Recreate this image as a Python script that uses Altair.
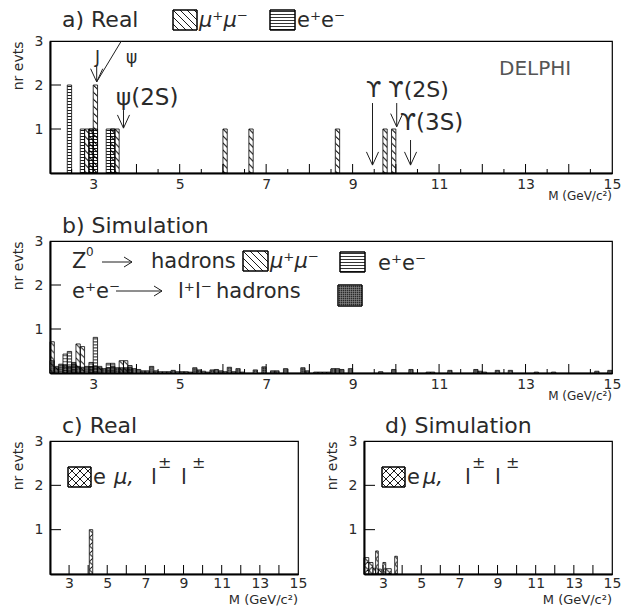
import base64
import altair as alt
import pandas as pd

FONT = "DejaVu Sans"
INK = "#1e1e1e"
TXT = "#2a2a2a"

# ---------------- data ----------------
# a) real data, 0.1 GeV bins (lower edge) and counts
a_mm_bin = [2.8, 2.9, 3.0, 3.4, 3.5, 6.0, 6.6, 8.6, 9.7, 9.9]
a_mm_cnt = [1, 1, 2, 1, 1, 1, 1, 1, 1, 1]
a_ee_bin = [2.4, 2.7, 2.9, 3.0, 3.3, 3.4]
a_ee_cnt = [2, 1, 1, 1, 1, 1]

# b) simulation, 0.1 GeV bins
b_mm_bin = [2.0, 2.1, 2.6, 2.7, 3.1, 3.6, 3.7]
b_mm_val = [0.71, 0.15, 0.66, 0.60, 0.15, 0.28, 0.28]
b_ee_bin = [2.3, 2.4, 2.5, 2.9, 3.0, 3.3, 3.4, 3.8]
b_ee_val = [0.43, 0.49, 0.24, 0.24, 0.81, 0.22, 0.22, 0.17]
b_ll_bin = [2.0, 2.1, 2.2, 2.3, 2.4, 2.5, 2.6, 2.7, 2.8, 2.9, 3.0, 3.1, 3.2, 3.3, 3.4,
            3.5, 3.6, 3.7, 3.8, 3.9,
            4.0, 4.1, 4.2, 4.3, 4.4, 4.5, 4.6, 4.7, 4.8, 4.9, 5.0, 5.1, 5.2, 5.3, 5.4,
            5.5, 5.6, 5.7, 5.8, 5.9, 6.0, 6.1, 6.2, 6.3, 6.4,
            6.7, 6.9, 7.1, 7.2, 7.4, 7.8, 7.9,
            8.1, 8.2, 8.3, 8.4, 8.5, 8.6, 8.7, 8.9,
            9.6, 9.9,
            10.3, 10.7, 10.8,
            11.2, 11.8, 11.9, 12.0, 12.3, 12.6,
            13.2, 13.6,
            14.6, 14.9]
b_ll_val = [0.28, 0.12, 0.20, 0.18, 0.15, 0.20, 0.15, 0.13, 0.15, 0.15, 0.15, 0.12, 0.10, 0.12, 0.15,
            0.12, 0.12, 0.12, 0.12, 0.10,
            0.08, 0.05, 0.05, 0.15, 0.05, 0.03, 0.03, 0.03, 0.06, 0.03, 0.03, 0.03, 0.02, 0.12, 0.07,
            0.04, 0.02, 0.07, 0.08, 0.05, 0.03, 0.13, 0.03, 0.10, 0.02,
            0.07, 0.14, 0.05, 0.05, 0.10, 0.12, 0.05,
            0.02, 0.02, 0.02, 0.02, 0.10, 0.10, 0.08, 0.10,
            0.03, 0.08,
            0.08, 0.02, 0.02,
            0.06, 0.08, 0.04, 0.02, 0.06, 0.06,
            0.02, 0.02,
            0.04, 0.06]
BIN = 0.1

# c) real e-mu / like-sign
c_lo = [4.06]
c_hi = [4.24]
c_cnt = [1]

# d) simulation e-mu / like-sign
d_lo = [2.0, 2.25, 2.47, 2.61, 2.75, 2.99, 3.14, 3.61]
d_hi = [2.25, 2.47, 2.61, 2.75, 2.91, 3.14, 3.43, 3.75]
d_val = [0.37, 0.26, 0.13, 0.52, 0.11, 0.26, 0.12, 0.40]

# resonance arrows in panel a (mass, arrow top, arrow tip in "nr evts")
arr_x = [3.08, 3.70, 9.46, 10.02, 10.34]
arr_top = [2.45, 1.43, 1.59, 1.59, 0.75]
arr_tip = [2.07, 1.02, 0.18, 1.05, 0.18]

x_labels = [3, 5, 7, 9, 11, 13, 15]
y_labels = [1, 2, 3]

# ---------------- helpers ----------------
def svg_uri(pattern):
    s = ('<svg xmlns="http://www.w3.org/2000/svg" width="100%" height="100%" '
         'preserveAspectRatio="none"><defs>' + pattern +
         '</defs><rect x="0" y="0" width="100%" height="100%" fill="url(#p)"/></svg>')
    return "data:image/svg+xml;base64," + base64.b64encode(s.encode()).decode()

PAT_MM = svg_uri('<pattern id="p" width="7" height="7" patternUnits="userSpaceOnUse">'
                 '<path d="M0,0 L7,7 M-1,6 L1,8 M6,-1 L8,1" stroke="#000" stroke-width="0.9" fill="none"/></pattern>')
PAT_EE = svg_uri('<pattern id="p" width="4" height="3" patternUnits="userSpaceOnUse">'
                 '<path d="M0,1.5 H4" stroke="#000" stroke-width="0.8" fill="none"/></pattern>')
PAT_LL = svg_uri('<pattern id="p" width="2" height="2" patternUnits="userSpaceOnUse">'
                 '<rect width="2" height="2" fill="#2a2a2a"/>'
                 '<path d="M0.5,0 V2 M0,0.5 H2" stroke="#9a9a9a" stroke-width="0.5" fill="none"/></pattern>')
PAT_X = svg_uri('<pattern id="p" width="8" height="8" patternUnits="userSpaceOnUse">'
                '<path d="M0,0 L8,8 M8,0 L0,8 M-1,7 L1,9 M7,-1 L9,1 M-1,1 L1,-1 M7,9 L9,7" '
                'stroke="#000" stroke-width="0.9" fill="none"/></pattern>')

XS = alt.Scale(domain=[2, 15], nice=False, zero=False)
YS = alt.Scale(domain=[0, 3], nice=False, zero=False)
ONE = pd.DataFrame({"k": [0]})


def hist_df(lo, hi, val):
    return pd.DataFrame({"x": lo, "x2": hi, "y": val, "y2": [0] * len(lo)})


def hist_layers(df, uri):
    enc = dict(x=alt.X("x:Q", scale=XS), x2="x2:Q",
               y=alt.Y("y:Q", scale=YS), y2="y2:Q")
    img = alt.Chart(df).mark_image(aspect=False).encode(url=alt.value(uri), **enc)
    out = alt.Chart(df).mark_rect(fillOpacity=0, stroke="black", strokeWidth=0.8).encode(**enc)
    return [img, out]


def axes_layers(W, H, half_ticks=True, label_size=14, label_pad=4):
    maj = pd.DataFrame({"xt": list(range(3, 15))})
    layers = [
        alt.Chart(maj).mark_rule(color="black", strokeWidth=1).encode(
            x=alt.X("xt:Q", scale=XS, axis=alt.Axis(
                values=x_labels, title="", ticks=False, grid=False, labelFlush=False,
                labelOverlap=False, labelFontSize=label_size, labelPadding=label_pad,
                domainWidth=2, domainColor="black", labelColor=TXT, labelFont=FONT)),
            y=alt.value(H), y2=alt.value(H - 9)),
        alt.Chart(pd.DataFrame({"yt": [1, 2]})).mark_rule(color="black", strokeWidth=1).encode(
            y=alt.Y("yt:Q", scale=YS, axis=alt.Axis(
                values=y_labels, title="nr evts", ticks=False, grid=False,
                labelFontSize=14, labelPadding=7, domainWidth=2, domainColor="black",
                labelColor=TXT, labelFont=FONT, titleFont=FONT, titleFontSize=14,
                titleFontWeight="normal", titleColor=TXT, titleAnchor="end", titlePadding=9)),
            x=alt.value(0), x2=alt.value(11)),
    ]
    if half_ticks:
        mino = pd.DataFrame({"xm": [v + 0.5 for v in range(2, 15)]})
        layers.append(alt.Chart(mino).mark_rule(color="black", strokeWidth=1).encode(
            x=alt.X("xm:Q", scale=XS), y=alt.value(H), y2=alt.value(H - 4)))
    return layers


def txt(text, x, y, size=21, italic=False, align="left", color=TXT):
    kw = dict(text=text, font=FONT, fontSize=size, align=align, baseline="alphabetic", color=color)
    if italic:
        kw["fontStyle"] = "italic"
    return alt.Chart(ONE).mark_text(**kw).encode(x=alt.value(x), y=alt.value(y))


def swatch(x1, x2, y1, y2, uri):
    enc = dict(x=alt.value(x1), x2=alt.value(x2), y=alt.value(y1), y2=alt.value(y2))
    return [alt.Chart(ONE).mark_rect(fill="white", stroke="black", strokeWidth=1).encode(**enc),
            alt.Chart(ONE).mark_image(aspect=False).encode(url=alt.value(uri), **enc),
            alt.Chart(ONE).mark_rect(fillOpacity=0, stroke="black", strokeWidth=1).encode(**enc)]


def rule_px(x1, y1, x2, y2, w=1):
    return alt.Chart(ONE).mark_rule(color=INK, strokeWidth=w).encode(
        x=alt.value(x1), y=alt.value(y1), x2=alt.value(x2), y2=alt.value(y2))


def h_arrow(x1, x2, y):
    return [rule_px(x1, y, x2, y), rule_px(x2 - 8, y - 5, x2, y), rule_px(x2 - 8, y + 5, x2, y)]


# ---------------- panel a ----------------
WA, HA = 562, 132
a_layers = axes_layers(WA, HA)
a_layers += hist_layers(hist_df(a_ee_bin, [b + BIN for b in a_ee_bin], a_ee_cnt), PAT_EE)
a_layers += hist_layers(hist_df(a_mm_bin, [b + BIN for b in a_mm_bin], a_mm_cnt), PAT_MM)

arr = pd.DataFrame({"x": arr_x, "top": arr_top, "tip": arr_tip})
arr["xl"] = arr["x"] - 0.14
arr["xr"] = arr["x"] + 0.14
arr["yh"] = arr["tip"] + 0.3
a_layers.append(alt.Chart(arr).mark_rule(color=INK, strokeWidth=1).encode(
    x=alt.X("x:Q", scale=XS), y=alt.Y("top:Q", scale=YS), y2="tip:Q"))
a_layers.append(alt.Chart(arr).mark_rule(color=INK, strokeWidth=1).encode(
    x=alt.X("xl:Q", scale=XS), x2="x:Q", y=alt.Y("yh:Q", scale=YS), y2="tip:Q"))
a_layers.append(alt.Chart(arr).mark_rule(color=INK, strokeWidth=1).encode(
    x=alt.X("xr:Q", scale=XS), x2="x:Q", y=alt.Y("yh:Q", scale=YS), y2="tip:Q"))
# the "/" of J/psi
slash = pd.DataFrame({"x": [3.08], "x2": [3.65], "y": [2.07], "y2": [3.0]})
a_layers.append(alt.Chart(slash).mark_rule(color=INK, strokeWidth=1).encode(
    x=alt.X("x:Q", scale=XS), x2="x2:Q", y=alt.Y("y:Q", scale=YS), y2="y2:Q"))

a_layers += [txt("a) Real", 12, -14, size=22)]
a_layers += swatch(123, 147, -31, -11, PAT_MM)
a_layers += [txt("μ⁺μ⁻", 149, -14, italic=True)]
a_layers += swatch(220, 245, -31, -11, PAT_EE)
a_layers += [txt("e⁺e⁻", 247, -14),
             txt("DELPHI", 449, 34, size=20, color="#555555"),
             txt("J", 45, 22, size=17),
             txt("ψ", 76, 22, size=17),
             txt("ψ(2S)", 66, 64, size=23),
             txt("ϒ ϒ(2S)", 316, 56, size=22),
             txt("ϒ(3S)", 350, 89, size=23),
             txt("M (GeV/c²)", 562, 159, size=12, align="right")]
panel_a = alt.layer(*a_layers).properties(width=WA, height=HA)

# ---------------- panel b ----------------
b_layers = axes_layers(WA, HA)
b_layers += hist_layers(hist_df(b_ll_bin, [b + BIN for b in b_ll_bin], b_ll_val), PAT_LL)
b_layers += hist_layers(hist_df(b_ee_bin, [b + BIN for b in b_ee_bin], b_ee_val), PAT_EE)
b_layers += hist_layers(hist_df(b_mm_bin, [b + BIN for b in b_mm_bin], b_mm_val), PAT_MM)
b_layers += [txt("b) Simulation", 12, -8, size=22),
             txt("Z", 22, 27), txt("0", 36, 15, size=12)]
b_layers += h_arrow(52, 82, 21)
b_layers += [txt("hadrons", 101, 27)]
b_layers += swatch(193, 218, 10, 30, PAT_MM)
b_layers += [txt("μ⁺μ⁻", 220, 27, italic=True)]
b_layers += swatch(290, 315, 11, 31, PAT_EE)
b_layers += [txt("e⁺e⁻", 328, 29), txt("e⁺e⁻", 22, 57)]
b_layers += h_arrow(66, 112, 50)
b_layers += [txt("l⁺l⁻", 128, 57), txt("hadrons", 166, 57)]
b_layers += swatch(288, 312, 44, 65, PAT_LL)
b_layers += [txt("M (GeV/c²)", 562, 159, size=12, align="right")]
panel_b = alt.layer(*b_layers).properties(width=WA, height=HA)

# ---------------- panels c, d ----------------
WC, HC = 248, 133


def small_panel(title, tx, df, mu_x):
    L = axes_layers(WC, HC, half_ticks=False, label_pad=2)
    L += hist_layers(df, PAT_X)
    L += [txt(title, tx, -8, size=22)]
    L += swatch(18, 41, 26, 46, PAT_X)
    L += [txt("e", 43, 43), txt("μ,", mu_x, 43, italic=True),
          txt("l", 101, 43), txt("±", 108, 27, size=16),
          txt("l", 131, 43), txt("±", 142, 27, size=16),
          txt("M (GeV/c²)", 248, 163, size=13, align="right")]
    return alt.layer(*L).properties(width=WC, height=HC)


panel_c = small_panel("c) Real", 12, hist_df(c_lo, c_hi, c_cnt), 64)
panel_d = small_panel("d) Simulation", 21, hist_df(d_lo, d_hi, d_val), 59)

chart = alt.vconcat(
    panel_a, panel_b,
    alt.hconcat(panel_c, panel_d, spacing=66, bounds="flush"),
    spacing=68, bounds="flush",
).properties(
    padding={"left": 10, "top": 8, "right": 0, "bottom": 0},
    background="white",
).configure_view(stroke="black", strokeWidth=1.2)

chart.save("out.html", embed_options={"renderer": "svg", "actions": False})
